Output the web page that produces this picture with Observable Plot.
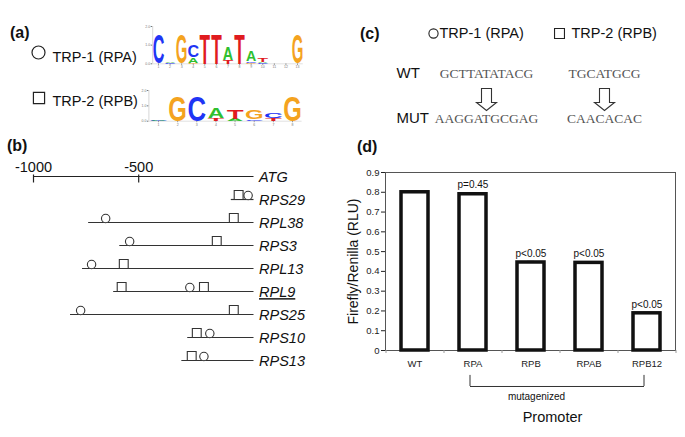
<!DOCTYPE html>
<html><head><meta charset="utf-8">
<script src="https://cdn.jsdelivr.net/npm/d3@7"></script>
<script src="https://cdn.jsdelivr.net/npm/@observablehq/plot@0.6"></script>
<style>
html,body{margin:0;padding:0;background:#fff;}
#root{position:relative;width:685px;height:437px;overflow:hidden;font-family:"Liberation Sans",Arial,sans-serif;color:#111;}
.plab{position:absolute;font-weight:bold;font-size:16px;line-height:16px;white-space:nowrap;}
</style></head><body><div id="root"></div>
<script>
// ---------------- data ----------------
const panelLabels = ["(a)", "(b)", "(c)", "(d)"];
const motifs = ["TRP-1 (RPA)", "TRP-2 (RPB)"];
const motifShort = ["RPA", "RPB"];
const baseColors = {A: "#2fbf2f", C: "#1f35f5", G: "#f4a31f", T: "#e01b1f"};
// sequence logo stacks (bottom -> top), [base, bits]
const logo1 = [
  [["C", 1.62]],
  [["C", 0.04], ["A", 0.08]],
  [["G", 1.6]],
  [["G", 0.04], ["A", 0.3], ["C", 0.62]],
  [["T", 1.6]],
  [["T", 1.6]],
  [["T", 0.2], ["A", 0.7]],
  [["T", 1.6]],
  [["G", 0.04], ["C", 0.1], ["A", 0.56]],
  [["C", 0.03], ["A", 0.06], ["T", 0.2]],
  [["A", 0.02]],
  [["T", 0.02]],
  [["G", 1.6]]
];
const logo2 = [
  [["C", 0.04], ["A", 0.06]],
  [["G", 1.7]],
  [["C", 1.7]],
  [["T", 0.2], ["A", 0.72]],
  [["A", 0.15], ["T", 0.62]],
  [["C", 0.12], ["G", 0.6]],
  [["T", 0.2], ["C", 0.35]],
  [["G", 1.7]]
];
const logoTicks = [0, 1, 2];
// panel (b): promoter map (bp relative to ATG)
const axisTicks = [-1000, -500];
const atgLabel = "ATG";
const atgPos = 48;
const genes = ["RPS29", "RPL38", "RPS3", "RPL13", "RPL9", "RPS25", "RPS10", "RPS13"];
const geneStart = [-60, -738, -590, -767, -619, -824, -267, -295];
const circlePos = [[20], [-657], [-543], [-724], [-257], [-776], [-162], [-190]];
const squarePos = [[-25], [-48], [-129], [-571], [-581, -190], [-48], [-224], [-248]];
const underlinedGene = "RPL9";
// panel (c)
const seqRows = ["WT", "MUT"];
const wtSeq = ["GCTTATATACG", "TGCATGCG"];
const mutSeq = ["AAGGATGCGAG", "CAACACAC"];
// panel (d)
const promoters = ["WT", "RPA", "RPB", "RPAB", "RPB12"];
const rlu = [0.80, 0.79, 0.445, 0.443, 0.188];
const rluErr = [0.002, 0.006, 0.003, 0.004, 0.002];
const pLabels = ["", "p=0.45", "p<0.05", "p<0.05", "p<0.05"];
const yTicks = [0, 0.1, 0.2, 0.3, 0.4, 0.5, 0.6, 0.7, 0.8, 0.9];
const mutagenized = ["RPA", "RPB12"];
const yLabel = "Firefly/Renilla (RLU)";
const xLabel = "Promoter";
const bracketLabel = "mutagenized";

// ---------------- layout helpers ----------------
const FONT = '"Liberation Sans", Arial, sans-serif';
const root = document.getElementById("root");
function place(el, left, top) {
  el.style.position = "absolute";
  el.style.left = left + "px";
  el.style.top = top + "px";
  el.style.maxWidth = "none";
  el.style.background = "transparent";
  el.style.overflow = "visible";
  root.appendChild(el);
  return el;
}
const labelPos = [[10, 24.5], [7, 138], [360, 25.5], [357, 139]];
panelLabels.forEach((t, i) => {
  const d = document.createElement("div");
  d.className = "plab"; d.textContent = t;
  d.style.left = labelPos[i][0] + "px"; d.style.top = labelPos[i][1] + "px";
  root.appendChild(d);
});

const circleSym = "circle";
const squareSym = "square";
const tickSym = {draw(ctx) { ctx.moveTo(0, -2); ctx.lineTo(0, 6); }};
const arrowSym = {draw(ctx) {
  ctx.moveTo(-5, -11); ctx.lineTo(5, -11); ctx.lineTo(5, 3); ctx.lineTo(10, 3);
  ctx.lineTo(0, 11); ctx.lineTo(-10, 3); ctx.lineTo(-5, 3); ctx.closePath();
}};

// ---------------- panel (a) legend ----------------
place(Plot.plot({
  width: 145, height: 130, marginLeft: 0, marginRight: 0, marginTop: 55, marginBottom: 30.5,
  y: {type: "point", domain: motifs, padding: 0, axis: null},
  style: {fontFamily: FONT},
  marks: [
    Plot.dot([motifs[0]], {y: d => d, frameAnchor: "left", dx: 38, dy: -3, r: 6.5, symbol: circleSym, fill: "white", stroke: "#222", strokeWidth: 1.2}),
    Plot.dot([motifs[1]], {y: d => d, frameAnchor: "left", dx: 38.5, dy: -1.5, r: 6.3, symbol: squareSym, fill: "white", stroke: "#222", strokeWidth: 1.2}),
    Plot.text(motifs, {y: d => d, text: d => d, frameAnchor: "left", dx: 52, dy: 2, textAnchor: "start", lineAnchor: "middle", fontSize: 14.5, fill: "#111"})
  ]
}), 0, 0);

// ---------------- sequence logos ----------------
const ink = {A: 0.70, C: 0.62, G: 0.67, T: 0.58};
const capH = {A: 0.716, C: 0.74, G: 0.74, T: 0.716};
const under = {A: 0, C: 0.012, G: 0.012, T: 0};
function logoPlot(stacks, opts) {
  const letters = [];
  stacks.forEach((stack, i) => {
    let y0 = 0;
    for (const [b, v] of stack) { letters.push({pos: i + 1, letter: b, y0, y1: y0 + v}); y0 += v; }
  });
  const n = stacks.length;
  const plot = Plot.plot({
    width: 170, height: 55,
    marginLeft: opts.ml, marginRight: opts.mr, marginTop: opts.mt, marginBottom: opts.mb,
    x: {domain: [0.5, n + 0.5], ticks: d3.range(1, n + 1), tickSize: 1.5, tickPadding: 0.5, tickFormat: d => d, label: null},
    y: {domain: [0, 2], ticks: logoTicks, tickSize: 1.5, tickPadding: 1, label: null},
    style: {fontFamily: FONT, fontSize: "3.5px", color: "#777"},
    marks: [
      Plot.ruleX([0.5], {y1: () => 0, y2: () => 2, stroke: "#bbb", strokeWidth: 0.6}),
      Plot.ruleY([0], {stroke: "#ccc", strokeWidth: 0.6}),
      Plot.text(letters, {x: "pos", y: "y0", text: "letter", fill: d => baseColors[d.letter], fontWeight: "bold", fontSize: 10, fontFamily: FONT})
    ]
  });
  const xs = plot.scale("x"), ys = plot.scale("y");
  const X = d3.scaleLinear(xs.domain, xs.range), Y = d3.scaleLinear(ys.domain, ys.range);
  const fs = 10;
  const nodes = [];
  d3.select(plot).selectAll("text").each(function() {
    if (/^[ACGT]$/.test(this.textContent) && this.closest('g[aria-label="text"]')) nodes.push(this);
  });
  nodes.forEach((el, i) => {
    const d = letters[i];
    if (!d) return;
    const h = Y(d.y0) - Y(d.y1);
    const sy = h / (capH[d.letter] * fs);
    const sx = opts.lw / (ink[d.letter] * fs);
    const yb = Y(d.y0) - under[d.letter] * fs * sy;
    el.removeAttribute("x"); el.removeAttribute("y"); el.removeAttribute("dy");
    el.setAttribute("text-anchor", "middle");
    el.setAttribute("transform", `translate(${X(d.pos)},${yb}) scale(${sx},${sy})`);
  });
  return plot;
}
place(logoPlot(logo1, {ml: 12.2, mr: 7.2, mt: 6, mb: 11.7, lw: 10}), 140, 20);
place(logoPlot(logo2, {ml: 8.4, mr: 8.4, mt: 12, mb: 12.3, lw: 16}), 140, 78);

// ---------------- panel (b) ----------------
const rowsB = [atgLabel, ...genes];
const geneRows = genes.map((g, i) => ({gene: g, start: geneStart[i]}));
const circles = genes.flatMap((g, i) => circlePos[i].map(p => ({gene: g, pos: p})));
const squares = genes.flatMap((g, i) => squarePos[i].map(p => ({gene: g, pos: p})));
const plotB = Plot.plot({
  width: 320, height: 235, marginLeft: 33, marginRight: 66.5, marginTop: 36, marginBottom: 15,
  x: {domain: [-1000, atgPos], axis: null},
  y: {type: "point", domain: rowsB, padding: 0, axis: null},
  style: {fontFamily: FONT},
  marks: [
    Plot.ruleY([atgLabel], {y: d => d, x1: () => -1000, x2: () => atgPos, stroke: "#222", strokeWidth: 1.2}),
    Plot.dot(axisTicks, {x: d => d, y: () => atgLabel, symbol: tickSym, fill: "none", stroke: "#222", strokeWidth: 1.2}),
    Plot.text(axisTicks, {x: d => d, y: () => atgLabel, text: d => String(d), dy: -9, fontSize: 14.5, fill: "#111"}),
    Plot.ruleY(geneRows, {y: "gene", x1: "start", x2: () => atgPos, stroke: "#333", strokeWidth: 1.2}),
    Plot.dot(circles, {x: "pos", y: "gene", r: 4.2, dy: -4, fill: "white", stroke: "#333", strokeWidth: 1.1}),
    Plot.dot(squares, {x: "pos", y: "gene", symbol: "square", r: 5, dy: -4.5, fill: "white", stroke: "#333", strokeWidth: 1.1}),
    Plot.text(rowsB, {x: () => atgPos, y: d => d, text: d => d, dx: 5, dy: 1, textAnchor: "start", fontStyle: "italic", fontSize: 14.5, fill: "#111"})
  ]
});
d3.select(plotB).selectAll("text").filter(function() { return this.textContent === underlinedGene; })
  .attr("text-decoration", "underline");
place(plotB, 0, 140);

// ---------------- panel (c) ----------------
const seqData = motifShort.flatMap((m, i) => [
  {motif: m, row: seqRows[0], seq: wtSeq[i]},
  {motif: m, row: seqRows[1], seq: mutSeq[i]}
]);
place(Plot.plot({
  width: 325, height: 135, marginLeft: 126, marginRight: 81, marginTop: 73, marginBottom: 17,
  x: {type: "point", domain: motifShort, padding: 0, axis: null},
  y: {type: "point", domain: seqRows, padding: 0, axis: null},
  style: {fontFamily: FONT},
  marks: [
    Plot.dot([motifShort[0]], {x: d => d, frameAnchor: "top", dx: -53, dy: -40, r: 4.6, symbol: circleSym, fill: "white", stroke: "#222", strokeWidth: 1.1}),
    Plot.dot([motifShort[1]], {x: d => d, frameAnchor: "top", dx: -45, dy: -40, r: 5.6, symbol: squareSym, fill: "white", stroke: "#222", strokeWidth: 1.1}),
    Plot.text([motifs[0]], {x: () => motifShort[0], text: d => d, frameAnchor: "top", lineAnchor: "middle", dx: -47, dy: -40, textAnchor: "start", fontSize: 14.5, fill: "#111"}),
    Plot.text([motifs[1]], {x: () => motifShort[1], text: d => d, frameAnchor: "top", lineAnchor: "middle", dx: -33, dy: -40, textAnchor: "start", fontSize: 14.5, fill: "#111"}),
    Plot.text(seqRows, {y: d => d, text: d => d, frameAnchor: "left", lineAnchor: "middle", dx: -90, textAnchor: "start", fontSize: 15, fill: "#111"}),
    Plot.text(seqData, {x: "motif", y: "row", text: "seq", fontFamily: '"Liberation Serif", "Times New Roman", serif', fontSize: 13.5, fill: "#555"}),
    Plot.dot(motifShort, {x: d => d, y: () => seqRows[0], dy: 26, symbol: arrowSym, fill: "white", stroke: "#333", strokeWidth: 1.1})
  ]
}), 360, 0);

// ---------------- panel (d) ----------------
const bars = promoters.map((p, i) => ({promoter: p, value: rlu[i], err: rluErr[i], p: pLabels[i]}));
place(Plot.plot({
  width: 345, height: 297, marginLeft: 45, marginRight: 10, marginTop: 32, marginBottom: 87,
  x: {domain: promoters, paddingInner: 0.54, paddingOuter: 0.27, tickSize: 0, tickPadding: 10, label: null},
  y: {domain: [0, 0.9], ticks: yTicks, tickFormat: d => d === 0 ? "0" : d.toFixed(1), tickSize: 4, tickPadding: 2, label: null},
  style: {fontFamily: FONT, fontSize: "9.5px", color: "#222"},
  marks: [
    Plot.frame({stroke: "#555", strokeWidth: 1}),
    Plot.ruleX(promoters, {x: d => d, y1: () => 0, y2: () => -0.015, dx: -29, stroke: "#999"}),
    Plot.ruleX([promoters[promoters.length - 1]], {x: d => d, y1: () => 0, y2: () => -0.015, dx: 29, stroke: "#999"}),
    Plot.barY(bars, {x: "promoter", y: "value", fill: "white", stroke: "#111", strokeWidth: 3.5}),
    Plot.ruleX(bars, {x: "promoter", y1: d => d.value - d.err, y2: d => d.value + d.err, stroke: "#111", strokeWidth: 2}),
    Plot.tickY(bars, {x: "promoter", y: d => d.value + d.err, insetLeft: 10, insetRight: 10, stroke: "#111", strokeWidth: 2}),
    Plot.text(bars.filter(d => d.p), {x: "promoter", y: d => d.value + d.err, text: "p", dy: -5, lineAnchor: "bottom", fontSize: 10, fill: "#111"}),
    Plot.ruleX(mutagenized, {x: d => d, y1: () => -0.126, y2: () => -0.182, dx: -3, stroke: "#333"}),
    Plot.link([mutagenized], {x1: d => d[0], x2: d => d[1], y1: () => -0.182, y2: () => -0.182, dx: -3, stroke: "#333"}),
    Plot.text([bracketLabel], {text: d => d, frameAnchor: "bottom", lineAnchor: "middle", dx: 6, dy: 46, fontSize: 10, fill: "#111"}),
    Plot.text([xLabel], {text: d => d, frameAnchor: "bottom", lineAnchor: "middle", dx: 22, dy: 67, fontSize: 14.5, fill: "#111"}),
    Plot.text([yLabel], {text: d => d, frameAnchor: "left", textAnchor: "middle", lineAnchor: "middle", rotate: -90, dx: -32, fontSize: 14, fill: "#111"})
  ]
}), 340, 140);
</script></body></html>
